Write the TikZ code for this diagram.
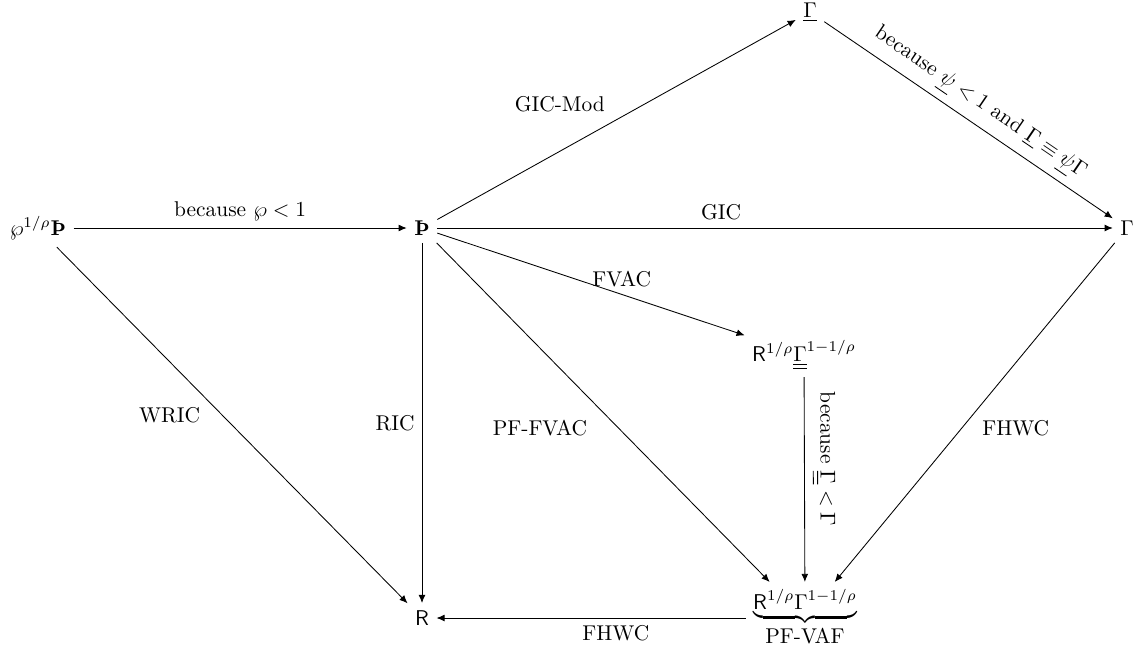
\documentclass[tikz,border=0pt]{standalone}
\usepackage{amsmath}
\usetikzlibrary{arrows.meta}
\begin{document}
\begin{tikzpicture}[x=0.4675pt,y=-0.4675pt,
  ar/.style={-{Latex[length=3.8pt,width=3.2pt]}}]
\useasboundingbox (0,0) rectangle (1136,652);
\node (A) at (38,228) {$\wp^{1/\rho}\text{\textbf{Þ}}$};
\node (P) at (422,228) {$\text{\textbf{Þ}}$};
\node (T) at (810,12) {$\underline{\Gamma}$};
\node (G) at (1127,228) {$\Gamma$};
\node (M) at (804,355) {$\mathsf{R}^{1/\rho}\underline{\underline{\Gamma}}^{1-1/\rho}$};
\node (B) at (805,618) {$\underbrace{\mathsf{R}^{1/\rho}\Gamma^{1-1/\rho}}_{\mbox{PF-VAF}}$};
\node (R) at (422,618) {$\mathsf{R}$};
\draw[ar] (A) -- node[above]{because $\wp<1$} (P);
\draw[ar] (P) -- node[above left,xshift=-2pt]{GIC-Mod} (T);
\draw[ar] (T) -- node[sloped,above]{because $\underline{\psi}<1$ and $\underline{\Gamma}\equiv\underline{\psi}\Gamma$} (G);
\draw[ar] (P) -- node[above,pos=0.42]{GIC} (G);
\draw[ar] (P) -- node[above,pos=0.6]{FVAC} (M);
\draw[ar] (M) -- node[sloped,above,pos=0.4]{because $\underline{\underline{\Gamma}}<\Gamma$} (B);
\draw[ar] (P) -- node[left]{RIC} (R);
\draw[ar] (P) -- node[below left,xshift=-4pt]{PF-FVAC} (B);
\draw[ar] (A) -- node[below left,pos=0.43]{WRIC} (R);
\draw[ar] (G) -- node[below right]{FHWC} (B);
\draw[ar] (B) -- node[below,pos=0.42]{FHWC} (R);
\end{tikzpicture}
\end{document}
